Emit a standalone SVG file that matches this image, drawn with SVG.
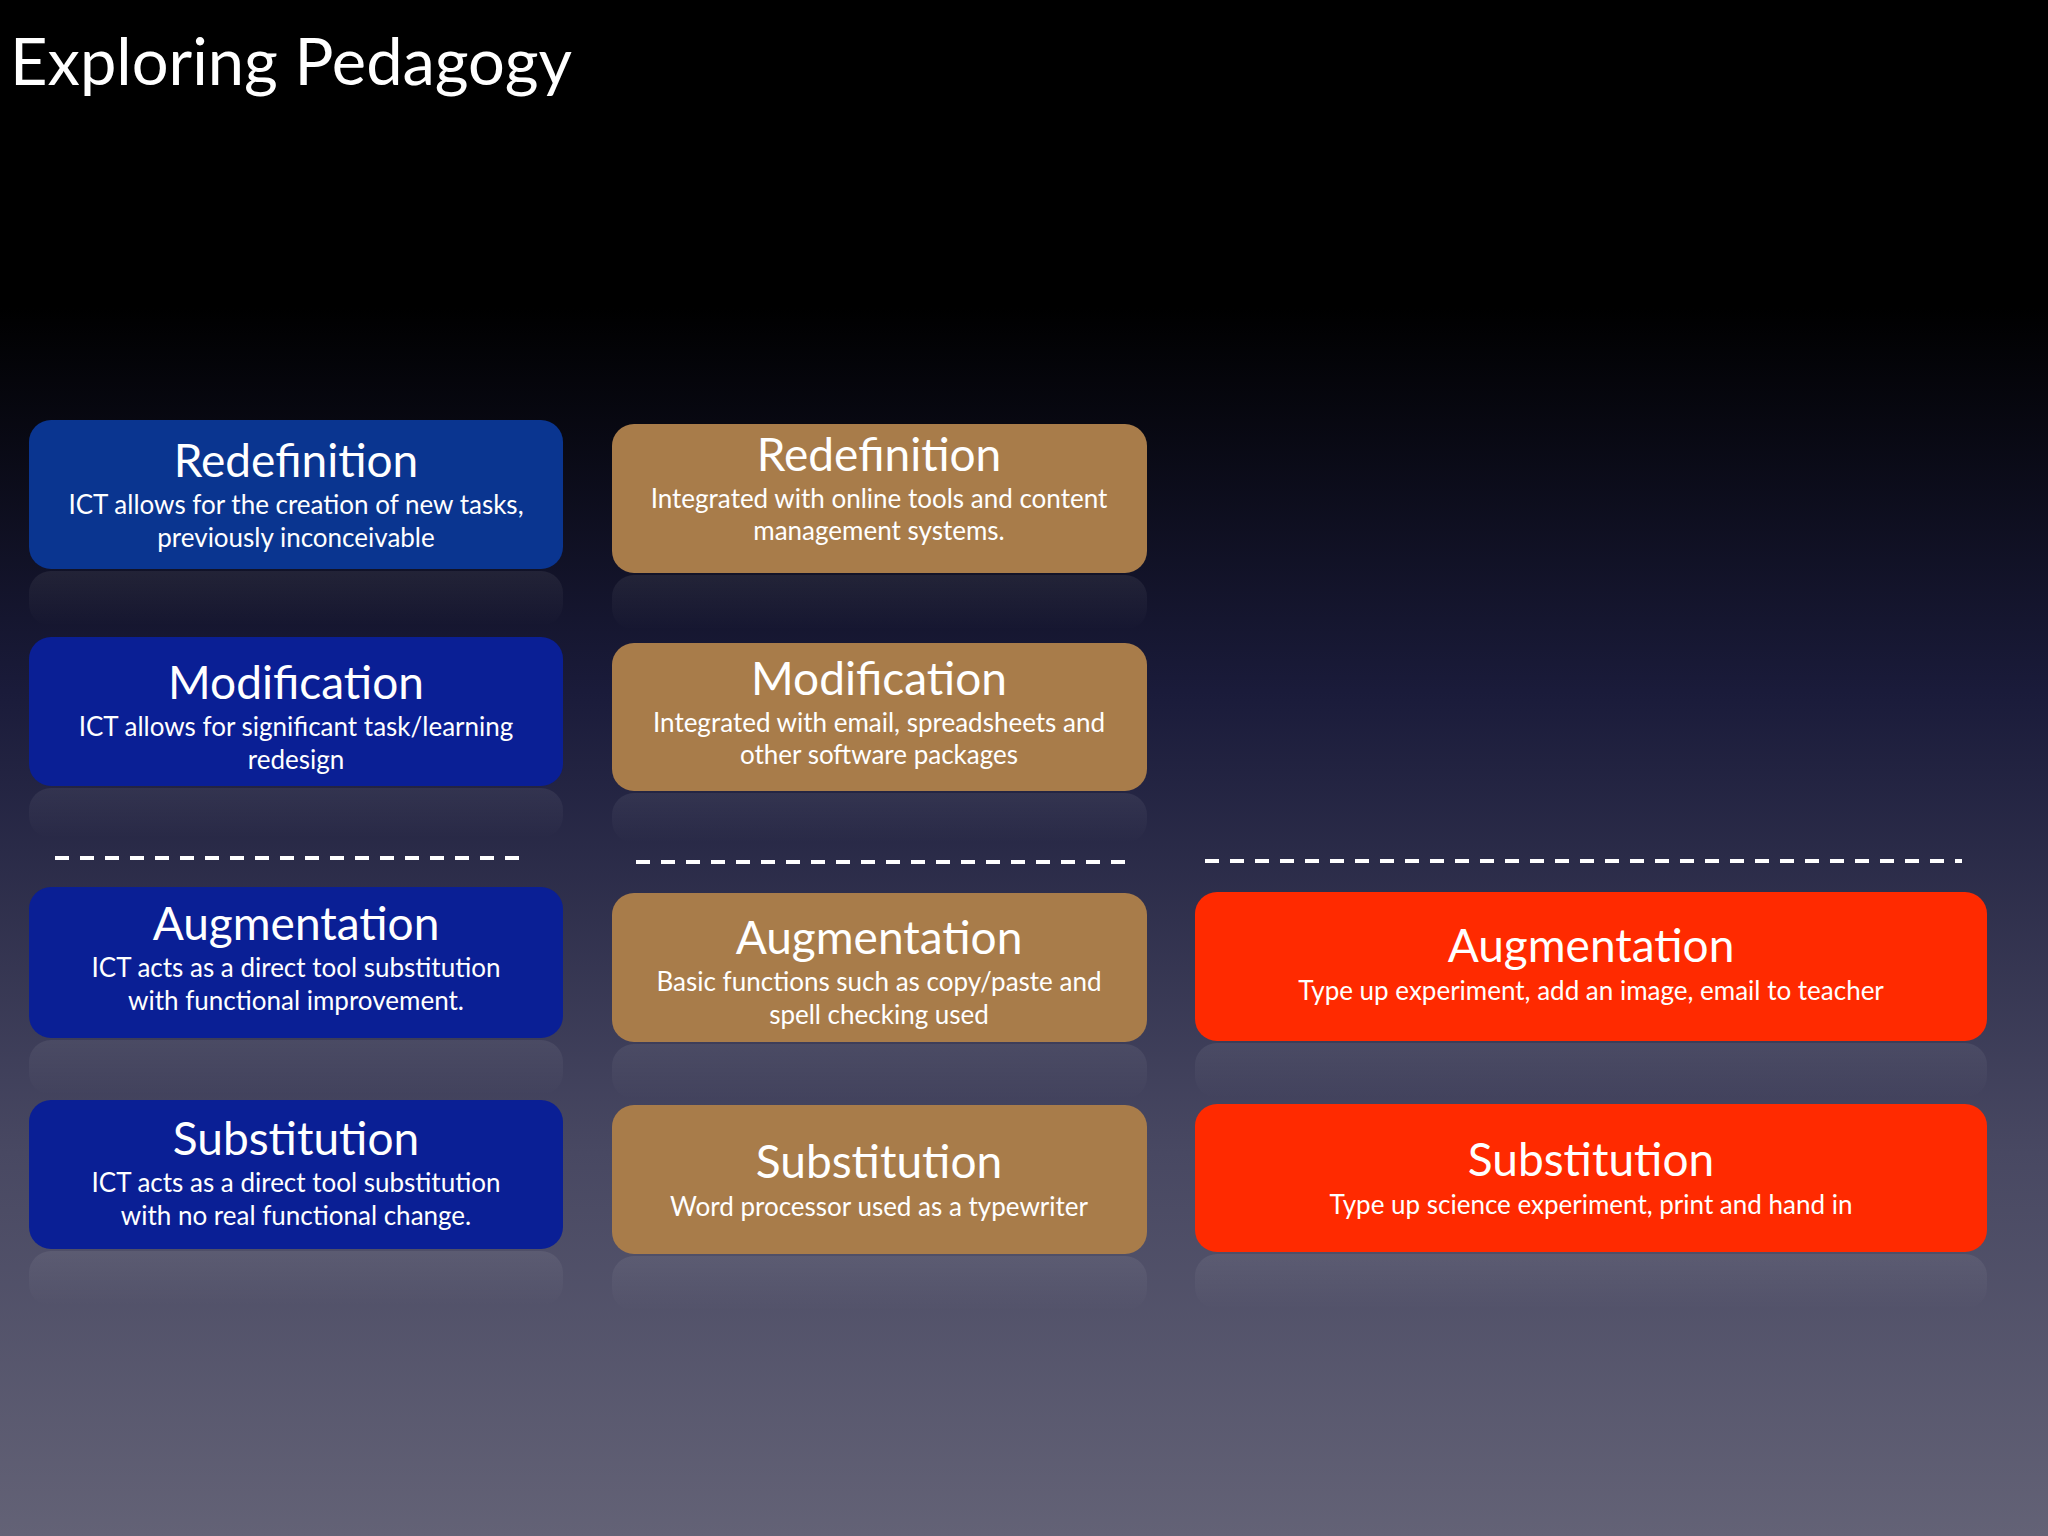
<svg xmlns="http://www.w3.org/2000/svg" width="2048" height="1536" viewBox="0 0 2048 1536">
<defs>
<linearGradient id="bg" x1="0" y1="0" x2="0" y2="1">
<stop offset="0" stop-color="#000"/><stop offset="0.2" stop-color="#000"/><stop offset="0.45" stop-color="#1a1b3a"/><stop offset="0.75" stop-color="#484862"/><stop offset="1" stop-color="#636276"/>
</linearGradient>
<linearGradient id="refl" x1="0" y1="0" x2="0" y2="1">
<stop offset="0" stop-color="#fff" stop-opacity="0.07"/><stop offset="1" stop-color="#fff" stop-opacity="0"/>
</linearGradient>
<style>
.t{font-family:Lato,"Open Sans",sans-serif;fill:#fff;text-anchor:middle}
.h{font-size:46px}
.b{font-size:26px}
.dash{stroke:#fff;stroke-width:4;stroke-dasharray:14 11}
.blue{fill:#0a1f95}
.blue2{fill:#0a3590}
.tan{fill:#a87c4a}
.red{fill:#ff2a00}
.r{fill:url(#refl)}
</style>
</defs>
<rect width="2048" height="1536" fill="url(#bg)"/>
<text x="10" y="85" font-family="Lato,'Open Sans',sans-serif" font-size="65" fill="#fff">Exploring Pedagogy</text>
<g id="connectors">
<line class="dash" x1="55" y1="858" x2="522" y2="858"/>
<line class="dash" x1="636" y1="862" x2="1127" y2="862"/>
<line class="dash" x1="1205" y1="861" x2="1962" y2="861"/>
</g>
<g id="c1-redef"><rect class="blue2" x="29" y="420" width="534" height="149" rx="22"/><rect class="r" x="29" y="571" width="534" height="55" rx="22"/>
<text class="t h" x="296" y="477">Redefinition</text><text class="t b" x="296" y="514">ICT allows for the creation of new tasks,</text><text class="t b" x="296" y="547">previously inconceivable</text></g>
<g id="c1-mod"><rect class="blue" x="29" y="637" width="534" height="149" rx="22"/><rect class="r" x="29" y="788" width="534" height="50" rx="22"/>
<text class="t h" x="296" y="699">Modification</text><text class="t b" x="296" y="736">ICT allows for significant task/learning</text><text class="t b" x="296" y="769">redesign</text></g>
<g id="c1-aug"><rect class="blue" x="29" y="887" width="534" height="151" rx="22"/><rect class="r" x="29" y="1040" width="534" height="55" rx="22"/>
<text class="t h" x="296" y="940">Augmentation</text><text class="t b" x="296" y="977">ICT acts as a direct tool substitution</text><text class="t b" x="296" y="1010">with functional improvement.</text></g>
<g id="c1-sub"><rect class="blue" x="29" y="1100" width="534" height="149" rx="22"/><rect class="r" x="29" y="1251" width="534" height="55" rx="22"/>
<text class="t h" x="296" y="1155">Substitution</text><text class="t b" x="296" y="1192">ICT acts as a direct tool substitution</text><text class="t b" x="296" y="1225">with no real functional change.</text></g>
<g id="c2-redef"><rect class="tan" x="612" y="424" width="535" height="149" rx="22"/><rect class="r" x="612" y="575" width="535" height="55" rx="22"/>
<text class="t h" x="879" y="471">Redefinition</text><text class="t b" x="879" y="508">Integrated with online tools and content</text><text class="t b" x="879" y="540">management systems.</text></g>
<g id="c2-mod"><rect class="tan" x="612" y="643" width="535" height="148" rx="22"/><rect class="r" x="612" y="793" width="535" height="50" rx="22"/>
<text class="t h" x="879" y="695">Modification</text><text class="t b" x="879" y="732">Integrated with email, spreadsheets and</text><text class="t b" x="879" y="764">other software packages</text></g>
<g id="c2-aug"><rect class="tan" x="612" y="893" width="535" height="149" rx="22"/><rect class="r" x="612" y="1044" width="535" height="55" rx="22"/>
<text class="t h" x="879" y="954">Augmentation</text><text class="t b" x="879" y="991">Basic functions such as copy/paste and</text><text class="t b" x="879" y="1024">spell checking used</text></g>
<g id="c2-sub"><rect class="tan" x="612" y="1105" width="535" height="149" rx="22"/><rect class="r" x="612" y="1256" width="535" height="55" rx="22"/>
<text class="t h" x="879" y="1178">Substitution</text><text class="t b" x="879" y="1216">Word processor used as a typewriter</text></g>
<g id="c3-aug"><rect class="red" x="1195" y="892" width="792" height="149" rx="22"/><rect class="r" x="1195" y="1043" width="792" height="55" rx="22"/>
<text class="t h" x="1591" y="962">Augmentation</text><text class="t b" x="1591" y="1000">Type up experiment, add an image, email to teacher</text></g>
<g id="c3-sub"><rect class="red" x="1195" y="1104" width="792" height="148" rx="22"/><rect class="r" x="1195" y="1254" width="792" height="55" rx="22"/>
<text class="t h" x="1591" y="1176">Substitution</text><text class="t b" x="1591" y="1214">Type up science experiment, print and hand in</text></g>
</svg>
